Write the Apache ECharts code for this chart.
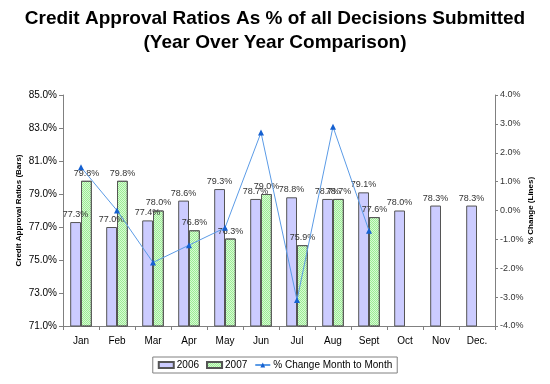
<!DOCTYPE html>
<html><head><meta charset="utf-8">
<script src="https://cdn.jsdelivr.net/npm/echarts@6/dist/echarts.min.js"></script>
<style>html,body{margin:0;padding:0;background:#fff}#c{width:550px;height:384px}</style>
</head><body><div id="c"></div>
<script>
var categories = ['Jan','Feb','Mar','Apr','May','Jun','Jul','Aug','Sept','Oct','Nov','Dec.'];
var values2006 = [77.3, 77.0, 77.4, 78.6, 79.3, 78.7, 78.8, 78.7, 79.1, 78.0, 78.3, 78.3];
var values2007 = [79.8, 79.8, 78.0, 76.8, 76.3, 79.0, 75.9, 78.7, 77.6, null, null, null];
var pctChange = [1.5, 0.0, -1.8, -1.2, -0.6, 2.7, -3.1, 2.9, -0.7, null, null, null];
var leftTicks = {min: 71, max: 85, interval: 2};
var rightTicks = {min: -4, max: 4, interval: 1};

var chart = echarts.init(document.getElementById('c'), null, {renderer: 'canvas'});
var font = 'Arial, "Liberation Sans", sans-serif';
var barLabel = {show: true, position: 'top', distance: 3, fontSize: 9, color: '#333', fontFamily: font,
  formatter: function (p) { return p.value == null ? '' : p.value.toFixed(1) + '%'; }};
chart.setOption({
  animation: false,
  title: {text: 'Credit Approval Ratios As % of all Decisions Submitted\n(Year Over Year Comparison)',
    left: 'center', top: 2,
    textStyle: {fontFamily: font, fontSize: 19, fontWeight: 'bold', color: '#000', lineHeight: 24}},
  grid: {left: 63, right: 55, top: 95, bottom: 58},
  legend: {bottom: 11, left: 'center', itemGap: 7, itemWidth: 15, itemHeight: 6,
    borderColor: '#808080', borderWidth: 1, padding: [3, 5, 3, 5],
    textStyle: {fontFamily: font, fontSize: 10, color: '#000', padding: [0, 0, 0, -2]},
    data: [{name: '2006', icon: 'rect'}, {name: '2007', icon: 'rect'}, {name: '% Change Month to Month'}]},
  xAxis: {type: 'category', data: categories,
    axisLine: {onZero: false, lineStyle: {color: '#808080'}},
    axisTick: {show: true, length: 4, lineStyle: {color: '#808080'}},
    axisLabel: {fontFamily: font, fontSize: 10, color: '#000', margin: 10}},
  yAxis: [{type: 'value', min: leftTicks.min, max: leftTicks.max, interval: leftTicks.interval,
    name: 'Credit Approval Ratios (Bars)', nameLocation: 'middle', nameGap: 40, nameRotate: 90,
    nameMoveOverlap: false,
    nameTextStyle: {fontFamily: font, fontSize: 8, fontWeight: 'bold', color: '#000'},
    axisLine: {show: true, lineStyle: {color: '#808080'}},
    axisTick: {show: true, length: 4, lineStyle: {color: '#808080'}},
    splitLine: {show: false},
    axisLabel: {fontFamily: font, fontSize: 10, color: '#000', margin: 6,
      formatter: function (v) { return v.toFixed(1) + '%'; }}},
   {type: 'value', min: rightTicks.min, max: rightTicks.max, interval: rightTicks.interval, position: 'right',
    name: '% Change (Lines)', nameLocation: 'middle', nameGap: 32, nameRotate: 90,
    nameMoveOverlap: false,
    nameTextStyle: {fontFamily: font, fontSize: 8, fontWeight: 'bold', color: '#000'},
    axisLine: {show: true, lineStyle: {color: '#808080'}},
    axisTick: {show: true, length: 3, inside: false, lineStyle: {color: '#808080'}},
    splitLine: {show: false},
    axisLabel: {fontFamily: font, fontSize: 9, color: '#333', margin: 5,
      formatter: function (v) { return v.toFixed(1) + '%'; }}}],
  series: [
    {name: '2006', type: 'bar', data: values2006, barGap: '0%', barCategoryGap: '40%',
     itemStyle: {color: '#ccccff', borderColor: '#555', borderWidth: 1}, label: barLabel},
    {name: '2007', type: 'bar', data: values2007,
     itemStyle: {color: '#9cee94', borderColor: '#555', borderWidth: 1,
       decal: {symbol: 'rect', symbolSize: 1, dashArrayX: [[1, 1], [0, 1, 1, 0]], dashArrayY: [1, 0], color: 'rgba(255,255,255,0.6)'}},
     label: barLabel},
    {name: '% Change Month to Month', type: 'line', yAxisIndex: 1, data: pctChange,
     symbol: 'triangle', symbolSize: 6, lineStyle: {color: '#5b9be6', width: 1},
     itemStyle: {color: '#1560d0'}, z: 5}
  ]
});
</script></body></html>
